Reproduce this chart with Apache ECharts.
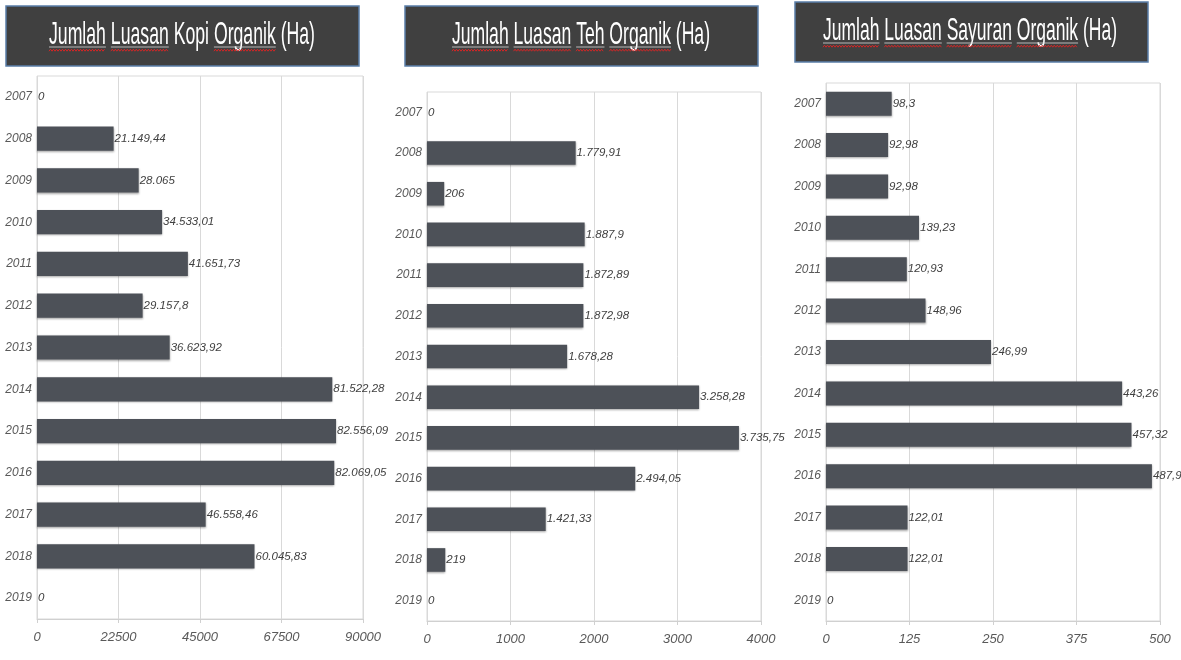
<!DOCTYPE html>
<html>
<head>
<meta charset="utf-8">
<script src="https://cdn.jsdelivr.net/npm/echarts@6/dist/echarts.min.js"></script>
<style>
html,body{margin:0;padding:0;background:#fff;}
#c{width:1181px;height:660px;}
</style>
</head>
<body>
<div id="c"></div>
<script>
const years = ['2007','2008','2009','2010','2011','2012','2013','2014','2015','2016','2017','2018','2019'];
const kopi = [0, 21149.44, 28065, 34533.01, 41651.73, 29157.8, 36623.92, 81522.28, 82556.09, 82069.05, 46558.46, 60045.83, 0];
const teh = [0, 1779.91, 206, 1887.9, 1872.89, 1872.98, 1678.28, 3258.28, 3735.75, 2494.05, 1421.33, 219, 0];
const sayuran = [98.3, 92.98, 92.98, 139.23, 120.93, 148.96, 246.99, 443.26, 457.32, 487.9, 122.01, 122.01, 0];
const axisMax = [90000, 4000, 500];
const axisStep = [22500, 1000, 125];
const titles = ['Jumlah Luasan Kopi Organik (Ha)', 'Jumlah Luasan Teh Organik (Ha)', 'Jumlah Luasan Sayuran Organik (Ha)'];
const flaggedWords = [['Jumlah','Luasan','Organik'], ['Jumlah','Luasan','Teh','Organik'], ['Jumlah','Luasan','Sayuran','Organik']];

const FONT = '"Liberation Sans",Arial,sans-serif';

function idFmt(v){
  const s = String(v);
  const parts = s.split('.');
  const ip = parts[0].replace(/\B(?=(\d{3})+(?!\d))/g, '.');
  return parts[1] ? ip + ',' + parts[1] : ip;
}

const grids = [
  {left:37, right:818, top:76, bottom:41},
  {left:427, right:420, top:92, bottom:39},
  {left:826, right:21, top:83, bottom:39}
];
const boxes = [
  {x:6, y:6, w:353, h:60, tl:49, tw:266, base:45},
  {x:405, y:6, w:353, h:60, tl:452, tw:258, base:45},
  {x:795, y:2, w:353, h:60, tl:823, tw:294, base:41}
];

const cv = document.createElement('canvas').getContext('2d');
const titleFont = '32px ' + FONT;
cv.font = titleFont;
function mw(t){ return cv.measureText(t).width; }

const graphics = [];
titles.forEach((t, i) => {
  const b = boxes[i];
  graphics.push({type:'rect', shape:{x:b.x, y:b.y, width:b.w, height:b.h},
    style:{fill:'#404040', stroke:'#5a7ea8', lineWidth:1.5}, z:10});
  const full = mw(t);
  const s = b.tw / full;
  graphics.push({type:'text', x:b.tl, y:b.base - 10, scaleX:s, z:11,
    style:{text:t, font:titleFont, fill:'#ffffff', align:'left', verticalAlign:'middle'}});
  flaggedWords[i].forEach(w => {
    const idx = t.indexOf(w);
    const x0 = b.tl + mw(t.slice(0, idx)) * s;
    const x1 = x0 + mw(w) * s;
    graphics.push({type:'line', shape:{x1:x0, y1:b.base+2, x2:x1, y2:b.base+2},
      style:{stroke:'#d8d8d8', lineWidth:0.8}, z:12});
    const pts = [];
    let k = 0;
    for (let x = x0; x <= x1; x += 1.5, k++) pts.push([x, b.base + (k % 2 ? 4.2 : 6.2)]);
    graphics.push({type:'polyline', shape:{points:pts},
      style:{stroke:'#e02424', lineWidth:0.9, fill:null}, z:12});
  });
});

const datasets = [kopi, teh, sayuran];
const option = {
  animation:false,
  backgroundColor:'#ffffff',
  grid: grids.map(g => Object.assign({show:true, borderColor:'#d9d9d9', borderWidth:1,
    backgroundColor:'transparent', containLabel:false, outerBoundsMode:'none'}, g)),
  xAxis: datasets.map((d, i) => ({
    type:'value', gridIndex:i, min:0, max:axisMax[i], interval:axisStep[i],
    axisLine:{show:true, lineStyle:{color:'#d0d0d0'}},
    axisTick:{show:true, length:4, lineStyle:{color:'#d0d0d0'}},
    splitLine:{show:true, lineStyle:{color:'#d9d9d9'}},
    axisLabel:{color:'#595959', fontStyle:'italic', fontFamily:FONT, fontSize:13, margin:12,
      formatter:v => String(v)}
  })),
  yAxis: datasets.map((d, i) => ({
    type:'category', gridIndex:i, data:years, inverse:true,
    axisLine:{show:false}, axisTick:{show:false},
    axisLabel:{color:'#595959', fontStyle:'italic', fontFamily:FONT, fontSize:12, margin:5}
  })),
  series: datasets.map((d, i) => ({
    type:'bar', xAxisIndex:i, yAxisIndex:i, data:d, barCategoryGap:'42%',
    itemStyle:{color:'#4d5158', borderWidth:0,
      shadowColor:'rgba(0,0,0,0.35)', shadowBlur:2, shadowOffsetY:1},
    label:{show:true, position:'right', distance:1, color:'#404040', fontStyle:'italic',
      fontFamily:FONT, fontSize:11.5, formatter:p => idFmt(p.value)}
  })),
  graphic: graphics
};
const chart = echarts.init(document.getElementById('c'));
chart.setOption(option);
</script>
</body>
</html>
